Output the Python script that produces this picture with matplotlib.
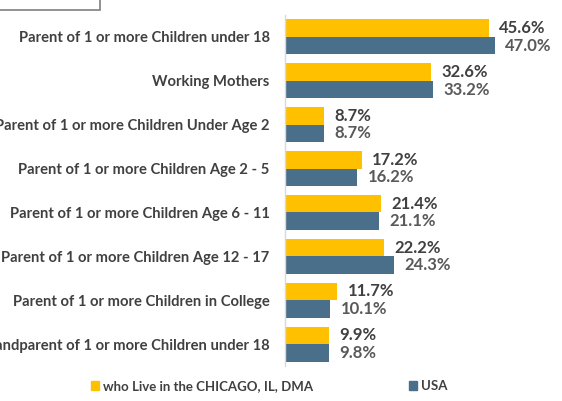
import matplotlib
matplotlib.use("Agg")
import matplotlib.pyplot as plt
from matplotlib.patches import Rectangle, Patch
import numpy as np

categories = [
    "Parent of 1 or more Children under 18",
    "Working Mothers",
    "Parent of 1 or more Children Under Age 2",
    "Parent of 1 or more Children Age 2 - 5",
    "Parent of 1 or more Children Age 6 - 11",
    "Parent of 1 or more Children Age 12 - 17",
    "Parent of 1 or more Children in College",
    "Grandparent of 1 or more Children under 18",
]
chicago = [45.6, 32.6, 8.7, 17.2, 21.4, 22.2, 11.7, 9.9]
usa = [47.0, 33.2, 8.7, 16.2, 21.1, 24.3, 10.1, 9.8]
series_names = ["who Live in the CHICAGO, IL, DMA", "USA"]

YELLOW = "#FFC000"
BLUE = "#4A6F8A"
FONT = "Lato"

W, H = 562, 401
fig = plt.figure(figsize=(W / 100, H / 100), dpi=100)
ax = fig.add_axes([285 / W, 1 - 366 / H, (W - 285) / W, (366 - 15) / H])

y = np.arange(len(categories))
bh = 0.4
ax.barh(y - bh / 2, chicago, height=bh, color=YELLOW)
ax.barh(y + bh / 2, usa, height=bh, color=BLUE)
ax.set_ylim(len(categories) - 0.5, -0.5)
ax.set_xlim(0, 62)

ax.set_yticks(y)
ax.set_yticklabels(categories, fontsize=10.6, fontweight="bold", color="#404040", family=FONT)
ax.tick_params(axis="y", length=0, pad=11)
ax.set_xticks([])
for s in ["top", "right", "bottom"]:
    ax.spines[s].set_visible(False)
ax.spines["left"].set_color("#D9D9D9")
ax.spines["left"].set_linewidth(1)

for yi, v in zip(y, chicago):
    ax.annotate(f"{v:.1f}%", (v, yi - bh / 2), xytext=(7.5, 0), textcoords="offset points",
                va="center", ha="left", fontsize=12, fontweight="bold", color="#404040", family=FONT)
for yi, v in zip(y, usa):
    ax.annotate(f"{v:.1f}%", (v, yi + bh / 2), xytext=(7.5, 0), textcoords="offset points",
                va="center", ha="left", fontsize=12, fontweight="bold", color="#595959", family=FONT)

# top-left box remnant
fig.patches.append(Rectangle((-0.01, 1 - 10 / H), 106 / W, 0.05, transform=fig.transFigure,
                             fill=False, edgecolor="#7F7F7F", linewidth=1.2))

# legend
handles = [Patch(color=YELLOW), Patch(color=BLUE)]
fig.legend(handles[:1], series_names[:1], loc="center left", bbox_to_anchor=(79 / W, 1 - 386 / H),
           frameon=False, prop={"family": FONT, "weight": "bold", "size": 9.5},
           handlelength=0.6, handleheight=0.6, handletextpad=0.3, labelcolor="#404040")
fig.legend(handles[1:], series_names[1:], loc="center left", bbox_to_anchor=(397 / W, 1 - 386 / H),
           frameon=False, prop={"family": FONT, "weight": "bold", "size": 9.5},
           handlelength=0.6, handleheight=0.6, handletextpad=0.3, labelcolor="#404040")

fig.savefig("out.png", dpi=100)
